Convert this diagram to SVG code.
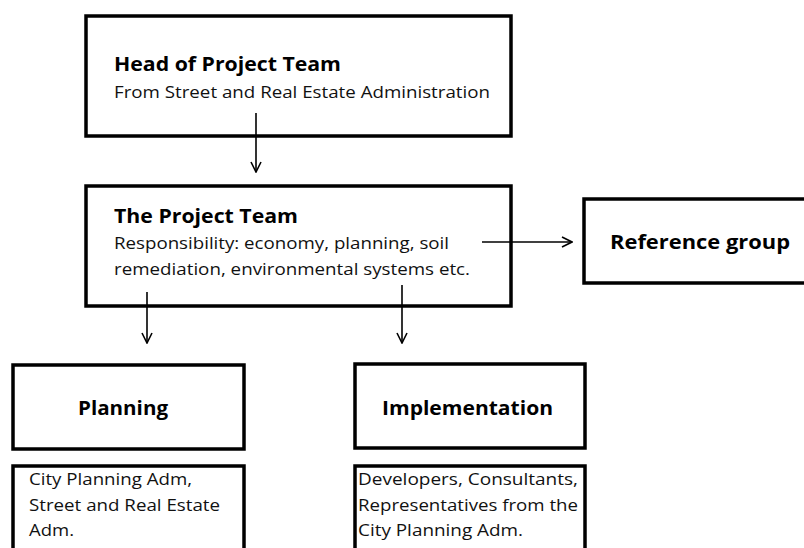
<svg xmlns="http://www.w3.org/2000/svg" width="804" height="548" viewBox="0 0 804 548">
<style>
.box{fill:#fff;stroke:#000;stroke-width:3.5}
.t{font-family:"Open Sans","Noto Sans","Liberation Sans",sans-serif;font-weight:bold;font-size:19.5px;fill:#000}
.b{font-family:"Open Sans","Noto Sans","Liberation Sans",sans-serif;font-size:17px;fill:#111}
.c{fill:none;stroke:#000;stroke-width:1.6}
</style>
<defs>
<marker id="ah" viewBox="0 0 12 12" refX="11" refY="6" markerWidth="12" markerHeight="12" markerUnits="userSpaceOnUse" orient="auto">
<path d="M1,1 L11,6 L1,11" fill="none" stroke="#000" stroke-width="1.6"/>
</marker>
</defs>
<rect width="804" height="548" fill="#fff"/>
<g id="head">
<rect class="box" x="86" y="16" width="425" height="120"/>
<text class="t" x="114" y="71" textLength="227" lengthAdjust="spacingAndGlyphs">Head of Project Team</text>
<text class="b" x="114" y="98" textLength="376" lengthAdjust="spacingAndGlyphs">From Street and Real Estate Administration</text>
</g>
<g id="team">
<rect class="box" x="86" y="186" width="425" height="120"/>
<text class="t" x="114" y="223" textLength="184" lengthAdjust="spacingAndGlyphs">The Project Team</text>
<text class="b" x="114" y="249" textLength="335" lengthAdjust="spacingAndGlyphs">Responsibility: economy, planning, soil</text>
<text class="b" x="114" y="275" textLength="356" lengthAdjust="spacingAndGlyphs">remediation, environmental systems etc.</text>
</g>
<g id="reference">
<rect class="box" x="584" y="199" width="240" height="84"/>
<text class="t" x="610" y="249" textLength="180" lengthAdjust="spacingAndGlyphs">Reference group</text>
</g>
<g id="planning">
<rect class="box" x="13" y="365" width="231" height="84"/>
<text class="t" x="78" y="415" textLength="90" lengthAdjust="spacingAndGlyphs">Planning</text>
</g>
<g id="planning-members">
<rect class="box" x="13" y="466" width="231" height="100"/>
<text class="b" x="29" y="485" textLength="163" lengthAdjust="spacingAndGlyphs">City Planning Adm,</text>
<text class="b" x="29" y="511" textLength="191" lengthAdjust="spacingAndGlyphs">Street and Real Estate</text>
<text class="b" x="29" y="536" textLength="45" lengthAdjust="spacingAndGlyphs">Adm.</text>
</g>
<g id="implementation">
<rect class="box" x="355" y="364" width="230" height="84"/>
<text class="t" x="382" y="415" textLength="171" lengthAdjust="spacingAndGlyphs">Implementation</text>
</g>
<g id="implementation-members">
<rect class="box" x="355" y="466" width="230" height="100"/>
<text class="b" x="358" y="485" textLength="220" lengthAdjust="spacingAndGlyphs">Developers, Consultants,</text>
<text class="b" x="358" y="511" textLength="220" lengthAdjust="spacingAndGlyphs">Representatives from the</text>
<text class="b" x="358" y="536" textLength="165" lengthAdjust="spacingAndGlyphs">City Planning Adm.</text>
</g>
<g id="connectors">
<line class="c" x1="256" y1="113" x2="256" y2="172" marker-end="url(#ah)"/>
<line class="c" x1="482" y1="242" x2="572" y2="242" marker-end="url(#ah)"/>
<line class="c" x1="147" y1="292" x2="147" y2="343" marker-end="url(#ah)"/>
<line class="c" x1="402" y1="285" x2="402" y2="343" marker-end="url(#ah)"/>
</g>
</svg>
